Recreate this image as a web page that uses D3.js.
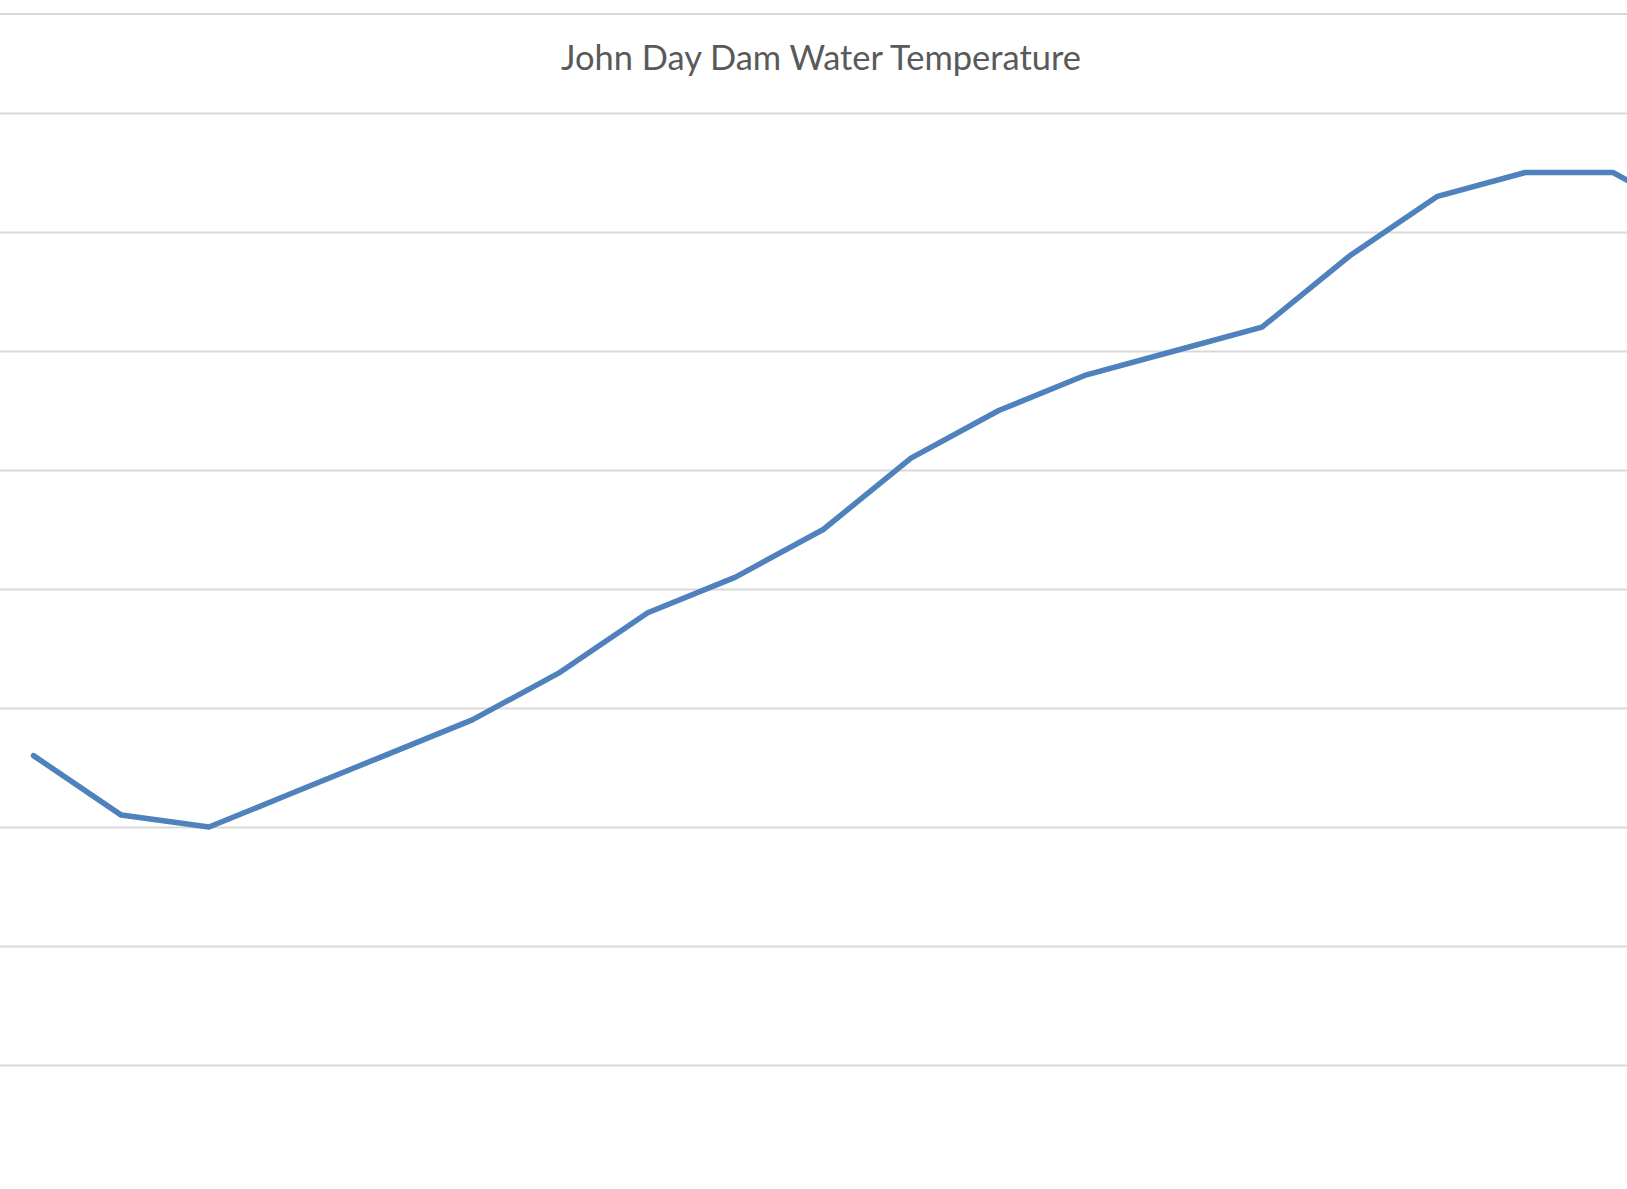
<!DOCTYPE html>
<html>
<head>
<meta charset="utf-8">
<script src="https://cdn.jsdelivr.net/npm/d3@7"></script>
<style>
  html, body { margin: 0; padding: 0; background: #fff; }
  svg { display: block; }
</style>
</head>
<body>
<svg width="1627" height="1189"></svg>
<script>
const title = 'John Day Dam Water Temperature';

// one reading per category, left to right (the last one runs off the edge)
const days = d3.range(20).map(i => 'Day ' + (i + 1));
const temps = [10.6, 10.1, 10.0, 10.3, 10.6, 10.9, 11.3, 11.8, 12.1, 12.5,
               13.1, 13.5, 13.8, 14.0, 14.2, 14.8, 15.3, 15.5, 15.5, 15.1];
const gridTicks = [8, 9, 10, 11, 12, 13, 14, 15, 16];

const svg = d3.select('svg');
const width = Number(svg.attr('width')), height = Number(svg.attr('height'));

const data = days.map((d, i) => ({ day: d, temp: temps[i] }));

const xScale = d3.scalePoint()
    .domain(days)
    .range([33.5, 33.5 + 87.75 * (days.length - 1)]);

const yScale = d3.scaleLinear()
    .domain([8, 16])
    .range([1065, 113]);

// plot-area top edge
svg.append('line')
    .attr('x1', 0).attr('x2', width)
    .attr('y1', 14).attr('y2', 14)
    .attr('stroke', '#d9d9d9')
    .attr('stroke-width', 2);

// gridlines
svg.append('g')
    .attr('class', 'grid')
    .call(d3.axisLeft(yScale).tickValues(gridTicks).tickSize(-width).tickFormat(''))
    .call(g => g.select('.domain').remove())
    .call(g => g.selectAll('.tick line')
        .attr('stroke', '#d9d9d9')
        .attr('stroke-width', 2));

// series
const line = d3.line()
    .x(d => xScale(d.day))
    .y(d => yScale(d.temp));

svg.append('path')
    .datum(data)
    .attr('fill', 'none')
    .attr('stroke', '#4f81bd')
    .attr('stroke-width', 5.5)
    .attr('stroke-linejoin', 'round')
    .attr('stroke-linecap', 'round')
    .attr('d', line);

// title
const t = svg.append('text')
    .attr('x', 821)
    .attr('y', 70)
    .attr('text-anchor', 'middle')
    .attr('font-family', 'Lato, "Open Sans", sans-serif')
    .attr('font-size', 31)
    .attr('fill', '#595959')
    .text(title);

// squeeze the title to the reference width
const w = t.node().getComputedTextLength();
if (w > 0) t.attr('font-size', 31 * 520 / w);
</script>
</body>
</html>
